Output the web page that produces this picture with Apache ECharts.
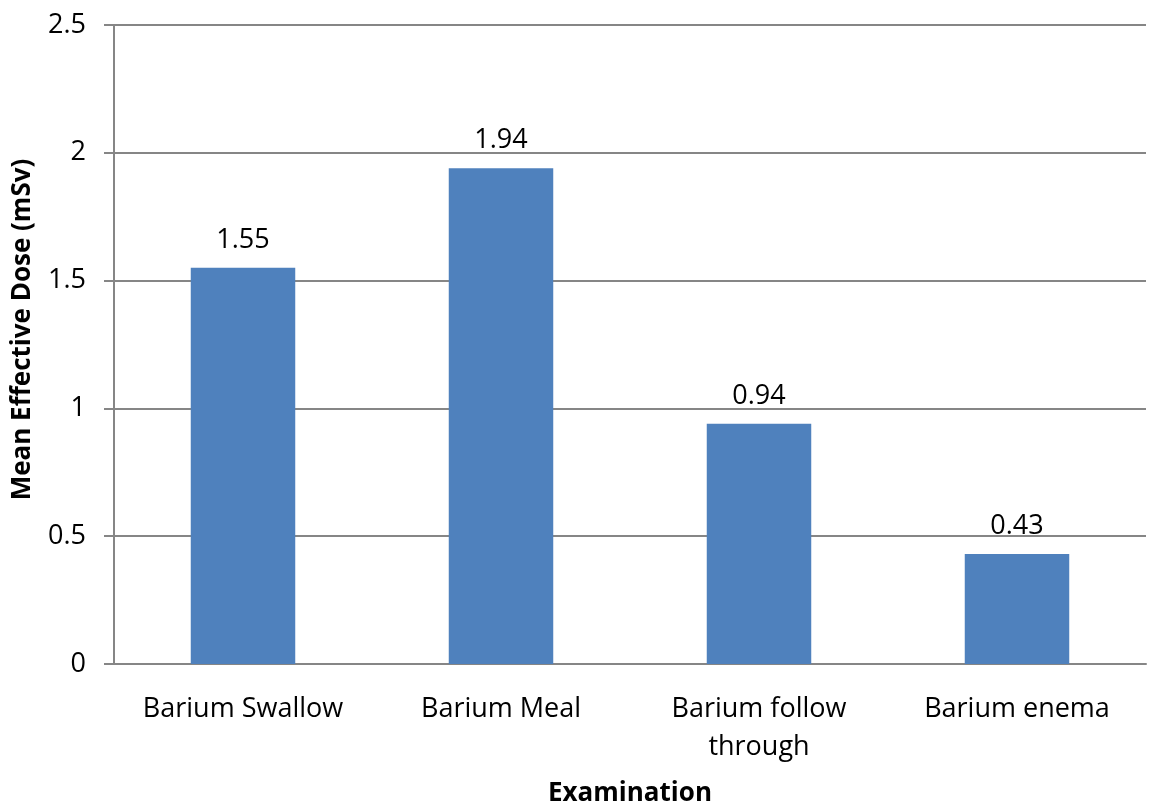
<!DOCTYPE html>
<html>
<head>
<meta charset="utf-8">
<script src="https://cdn.jsdelivr.net/npm/echarts@6/dist/echarts.min.js"></script>
<style>
  html, body { margin: 0; padding: 0; background: #fff; }
  #chart { width: 1151px; height: 804px; }
</style>
</head>
<body>
<div id="chart"></div>
<script>
// Mean effective dose per barium examination
const categories = ['Barium Swallow', 'Barium Meal', 'Barium follow\nthrough', 'Barium enema'];
const doses = [1.55, 1.94, 0.94, 0.43];
const yTicks = [0, 0.5, 1, 1.5, 2, 2.5];

const FONT = 'Open Sans';
const FS = 27;
const TITLE_FS = 26;
const axisGray = '#868686';

const chart = echarts.init(document.getElementById('chart'), null, { renderer: 'canvas' });
chart.setOption({
  animation: false,
  backgroundColor: '#ffffff',
  textStyle: { fontFamily: FONT },
  grid: { left: 114, right: 5, top: 25, bottom: 140, containLabel: false, outerBoundsMode: 'none' },
  xAxis: {
    type: 'category',
    data: categories,
    name: 'Examination',
    nameLocation: 'middle',
    nameGap: 117,
    nameTextStyle: { fontFamily: FONT, fontSize: TITLE_FS, fontWeight: 'bold', color: '#000' },
    axisLine: { show: true, lineStyle: { color: axisGray, width: 2 } },
    axisTick: { show: false },
    axisLabel: { fontFamily: FONT, fontSize: FS, color: '#000', margin: 26, lineHeight: 38, interval: 0 }
  },
  yAxis: {
    type: 'value',
    min: yTicks[0],
    max: yTicks[yTicks.length - 1],
    interval: 0.5,
    name: 'Mean Effective Dose (mSv)',
    nameLocation: 'middle',
    nameGap: 78,
    nameRotate: 90,
    nameTextStyle: { fontFamily: FONT, fontSize: TITLE_FS, fontWeight: 'bold', color: '#000', padding: [0, 0, 0, 30] },
    axisLine: { show: true, lineStyle: { color: axisGray, width: 2 } },
    axisTick: { show: true, length: 10, lineStyle: { color: axisGray, width: 2 } },
    axisLabel: { fontFamily: FONT, fontSize: FS, color: '#000', margin: 28 },
    splitLine: { show: true, lineStyle: { color: axisGray, width: 2 } }
  },
  series: [{
    type: 'bar',
    data: doses,
    barWidth: '40.5%',
    itemStyle: { color: '#4F81BD' },
    label: {
      show: true,
      position: 'top',
      distance: 14,
      fontFamily: FONT,
      fontSize: FS,
      color: '#000',
      formatter: p => p.value.toFixed(2)
    }
  }]
});
</script>
</body>
</html>
